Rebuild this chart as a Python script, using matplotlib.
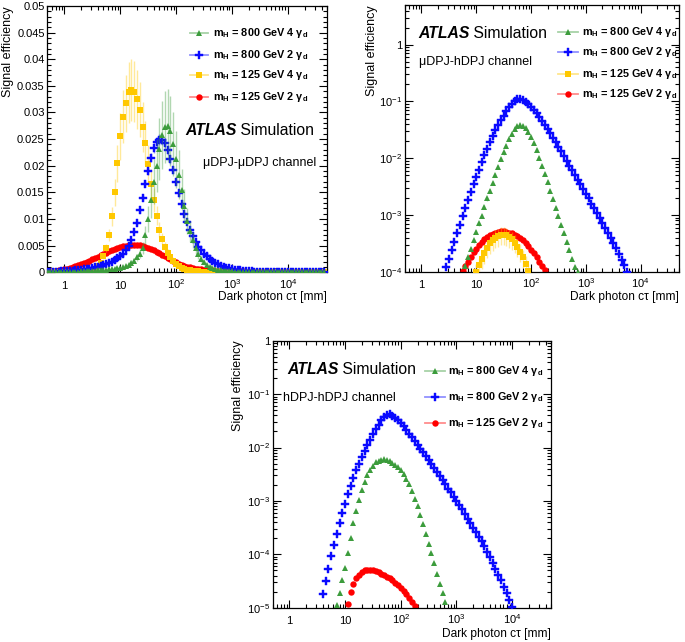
import math

import matplotlib
matplotlib.use("Agg")
import matplotlib.pyplot as plt
from matplotlib.lines import Line2D
from matplotlib.ticker import FuncFormatter, LogLocator, MultipleLocator, NullFormatter

plt.rcParams["font.family"] = ["Liberation Sans", "DejaVu Sans"]
plt.rcParams["mathtext.fontset"] = "custom"
plt.rcParams["mathtext.rm"] = "Liberation Sans"
plt.rcParams["mathtext.it"] = "Liberation Sans:italic"
plt.rcParams["mathtext.bf"] = "Liberation Sans:bold"
plt.rcParams["mathtext.sf"] = "Liberation Sans"

# dark photon c*tau points [mm], 20 per decade
CTAU = [
    0.501, 0.562, 0.631, 0.708, 0.794, 0.891,
    1.00, 1.12, 1.26, 1.41, 1.58, 1.78, 2.00, 2.24, 2.51, 2.82,
    3.16, 3.55, 3.98, 4.47, 5.01, 5.62, 6.31, 7.08, 7.94, 8.91,
    10.0, 11.2, 12.6, 14.1, 15.8, 17.8, 20.0, 22.4, 25.1, 28.2,
    31.6, 35.5, 39.8, 44.7, 50.1, 56.2, 63.1, 70.8, 79.4, 89.1,
    100, 112, 126, 141, 158, 178, 200, 224, 251, 282,
    316, 355, 398, 447, 501, 562, 631, 708, 794, 891,
    1000, 1120, 1260, 1410, 1580, 1780, 2000, 2240, 2510, 2820,
    3160, 3550, 3980, 4470, 5010, 5620, 6310, 7080, 7940, 8910,
    10000, 11200, 12600, 14100, 15800, 17800, 20000, 22400, 25100, 28200,
    31600, 35500, 39800, 44700,
]

# legend order: 800 GeV 4gd, 800 GeV 2gd, 125 GeV 4gd, 125 GeV 2gd
MASSES = [800, 800, 125, 125]
N_GD = [4, 2, 4, 2]
COLORS = ["#3c9c3c", "#0a0aff", "#ffc800", "#ff0000"]
MARKERS = ["^", "P", "s", "o"]
MSIZES = [5.0, 5.6, 4.2, 4.6]
EDGES = [0, 0.3, 0, 0]

# muDPJ-muDPJ channel (one value per CTAU point)
MUMU_800_4GD = [
    0.00002, 0.00002, 0.00003, 0.00003, 0.00004, 0.00005, 0.00006, 0.00007, 0.00008, 0.0001,
    0.00011, 0.00013, 0.00015, 0.00017, 0.0002, 0.00023, 0.00026, 0.0003, 0.00034, 0.00038,
    0.00043, 0.00049, 0.00055, 0.00062, 0.0007, 0.00078, 0.00088, 0.001, 0.0012, 0.00145,
    0.0018, 0.0022, 0.0028, 0.0035, 0.0046, 0.0070, 0.0100, 0.0135, 0.0170, 0.0200,
    0.0232, 0.0258, 0.0273, 0.0275, 0.0265, 0.0240, 0.0212, 0.0183, 0.0155, 0.0125,
    0.0097, 0.0077, 0.0060, 0.0046, 0.0034, 0.0025, 0.00185, 0.0014, 0.00105, 0.0008,
    0.00062, 0.00048, 0.00038, 0.0003, 0.00024, 0.00019, 0.00015, 0.00012, 0.0001, 0.00008,
    0.00007, 0.00006, 0.00005, 0.00004, 0.000035, 0.00003, 0.000025, 0.00002, 0.00002, 0.000015,
    0.000015, 0.00001, 0.00001, 0.00001, 0.00001, 0.000005, 0.000005, 0.000005, 0.000005, 0.000005,
    0.000005, 0.000005, 0, 0, 0, 0, 0, 0, 0, 0,
]
MUMU_800_2GD = [
    0.00007, 0.00008, 0.0001, 0.00012, 0.00014, 0.00017, 0.0002, 0.00024, 0.00028, 0.00032,
    0.00037, 0.00042, 0.00048, 0.00055, 0.00062, 0.0007, 0.0008, 0.00092, 0.00105, 0.0012,
    0.00135, 0.00155, 0.00175, 0.002, 0.0023, 0.0026, 0.003, 0.0035, 0.0041, 0.0049,
    0.0060, 0.0076, 0.0093, 0.0116, 0.0140, 0.0166, 0.0190, 0.0215, 0.0233, 0.0244,
    0.0249, 0.0249, 0.0243, 0.0230, 0.0212, 0.0192, 0.0170, 0.0148, 0.0128, 0.0110,
    0.0094, 0.0080, 0.0068, 0.0057, 0.0048, 0.0041, 0.0035, 0.0030, 0.0025, 0.0021,
    0.0018, 0.0015, 0.00125, 0.00105, 0.00088, 0.00073, 0.0006, 0.0005, 0.00042, 0.00035,
    0.00029, 0.00024, 0.0002, 0.00017, 0.00014, 0.00012, 0.0001, 0.00008, 0.00007, 0.00006,
    0.00005, 0.00004, 0.000035, 0.00003, 0.000025, 0.00002, 0.00002, 0.000015, 0.00001, 0.00001,
    0.00001, 0.000005, 0.000005, 0.000005, 0, 0, 0, 0, 0, 0,
]
MUMU_125_4GD = [
    0, 0, 0, 0, 0, 0, 0.00001, 0.00001, 0.00002, 0.00003,
    0.00004, 0.00006, 0.00009, 0.00013, 0.0002, 0.0003, 0.00045, 0.0007, 0.0011, 0.0018,
    0.0030, 0.0046, 0.0070, 0.0105, 0.0150, 0.0205, 0.0255, 0.0292, 0.0317, 0.0338,
    0.0343, 0.0339, 0.0325, 0.0305, 0.0273, 0.0242, 0.0204, 0.0166, 0.0136, 0.0106,
    0.0080, 0.0063, 0.0048, 0.0037, 0.0029, 0.0021, 0.0015, 0.0011, 0.0008, 0.0006,
    0.00045, 0.00035, 0.00027, 0.0002, 0.00015, 0.00011, 0.00008, 0.00006, 0.00005, 0.00004,
    0.00003, 0.00003, 0.00002, 0.00002, 0.00001, 0.00001, 0.00001, 0.00001, 0, 0,
    0, 0, 0, 0, 0, 0, 0, 0, 0, 0,
    0, 0, 0, 0, 0, 0, 0, 0, 0, 0,
    0, 0, 0, 0, 0, 0, 0, 0, 0, 0,
]
MUMU_125_2GD = [
    0.00015, 0.0002, 0.00025, 0.0003, 0.00038, 0.00046, 0.00055, 0.00066, 0.0008, 0.00095,
    0.00112, 0.0013, 0.0015, 0.00172, 0.00195, 0.0022, 0.00245, 0.0027, 0.00295, 0.0032,
    0.00345, 0.0037, 0.00395, 0.0042, 0.0044, 0.0046, 0.00475, 0.0049, 0.0050, 0.00505,
    0.0051, 0.0051, 0.0051, 0.00505, 0.00495, 0.0048, 0.0046, 0.0044, 0.00415, 0.0039,
    0.0036, 0.0033, 0.0030, 0.0027, 0.0024, 0.0021, 0.00185, 0.0016, 0.0014, 0.0012,
    0.00105, 0.0009, 0.00078, 0.00068, 0.0006, 0.00053, 0.00047, 0.00042, 0.00038, 0.00034,
    0.00031, 0.00028, 0.00026, 0.00024, 0.00022, 0.0002, 0.00019, 0.00018, 0.00017, 0.00016,
    0.00015, 0.00014, 0.00013, 0.00012, 0.00012, 0.00011, 0.0001, 0.0001, 0.00009, 0.00009,
    0.00008, 0.00008, 0.00007, 0.00007, 0.00007, 0.00006, 0.00006, 0.00006, 0.00005, 0.00005,
    0.00005, 0.00005, 0.00004, 0.00004, 0.00004, 0.00004, 0.00004, 0.00003, 0.00003, 0.00003,
]
MUMU_REL_ERR = [0.25, 0.04, 0.17, 0.03]

# muDPJ-hDPJ channel (values start at the given c*tau)
MUH_800_4GD_FROM = 6.31
MUH_800_4GD = [
    1.26e-4, 1.78e-4, 2.51e-4, 3.55e-4, 5.01e-4, 7.08e-4, 9.77e-4, 1.38e-3, 1.95e-3, 2.69e-3,
    3.72e-3, 5.13e-3, 7.08e-3, 9.55e-3, 1.26e-2, 1.66e-2, 2.14e-2, 2.69e-2, 3.24e-2, 3.63e-2,
    3.80e-2, 3.72e-2, 3.39e-2, 2.88e-2, 2.34e-2, 1.82e-2, 1.38e-2, 1.02e-2, 7.41e-3, 5.37e-3,
    3.80e-3, 2.69e-3, 1.91e-3, 1.35e-3, 9.55e-4, 6.76e-4, 4.79e-4, 3.39e-4, 2.40e-4, 1.70e-4,
    1.20e-4, 1.00e-4,
]
MUH_800_2GD_FROM = 2.82
MUH_800_2GD = [
    1.20e-4, 1.70e-4, 2.40e-4, 3.39e-4, 4.79e-4, 6.76e-4, 9.55e-4, 1.32e-3, 1.82e-3, 2.51e-3,
    3.47e-3, 4.68e-3, 6.31e-3, 8.51e-3, 1.12e-2, 1.48e-2, 1.91e-2, 2.45e-2, 3.09e-2, 3.80e-2,
    4.68e-2, 5.62e-2, 6.76e-2, 7.94e-2, 9.12e-2, 0.102, 0.110, 0.110, 0.105, 9.77e-2,
    8.91e-2, 7.94e-2, 7.08e-2, 6.17e-2, 5.37e-2, 4.57e-2, 3.89e-2, 3.31e-2, 2.75e-2, 2.29e-2,
    1.91e-2, 1.58e-2, 1.32e-2, 1.10e-2, 8.91e-3, 7.41e-3, 6.17e-3, 5.01e-3, 4.17e-3, 3.47e-3,
    2.82e-3, 2.34e-3, 1.95e-3, 1.58e-3, 1.32e-3, 1.07e-3, 8.91e-4, 7.24e-4, 5.89e-4, 4.79e-4,
    3.89e-4, 3.16e-4, 2.57e-4, 2.04e-4, 1.62e-4, 1.29e-4, 1.00e-4,
]
MUH_125_4GD_FROM = 10.0
MUH_125_4GD = [
    1.00e-4, 1.29e-4, 1.70e-4, 2.14e-4, 2.63e-4, 3.16e-4, 3.63e-4, 3.98e-4, 4.27e-4, 4.47e-4,
    4.47e-4, 4.37e-4, 4.07e-4, 3.72e-4, 3.24e-4, 2.75e-4, 2.24e-4, 1.78e-4, 1.38e-4, 1.02e-4,
]
MUH_125_2GD_FROM = 5.62
MUH_125_2GD = [
    1.02e-4, 1.26e-4, 1.51e-4, 1.82e-4, 2.19e-4, 2.51e-4, 2.95e-4, 3.31e-4, 3.72e-4, 4.07e-4,
    4.37e-4, 4.68e-4, 4.90e-4, 5.01e-4, 5.13e-4, 5.13e-4, 5.01e-4, 4.90e-4, 4.79e-4, 4.47e-4,
    4.17e-4, 3.89e-4, 3.55e-4, 3.16e-4, 2.82e-4, 2.45e-4, 2.14e-4, 1.82e-4, 1.51e-4, 1.26e-4,
    1.05e-4,
]
MUH_REL_ERR = [0.08, 0.02, 0.35, 0.06]

# hDPJ-hDPJ channel (no 125 GeV 4gd sample)
HH_800_4GD_FROM = 7.08
HH_800_4GD = [
    1.12e-5, 1.91e-5, 3.31e-5, 5.62e-5, 1.05e-4, 2.00e-4, 3.80e-4, 6.61e-4, 1.05e-3, 1.58e-3,
    2.24e-3, 3.02e-3, 3.80e-3, 4.57e-3, 5.25e-3, 5.62e-3, 5.89e-3, 6.03e-3, 5.89e-3, 5.50e-3,
    5.13e-3, 4.79e-3, 4.27e-3, 3.80e-3, 3.16e-3, 2.57e-3, 2.04e-3, 1.51e-3, 1.10e-3, 7.94e-4,
    5.37e-4, 3.63e-4, 2.40e-4, 1.58e-4, 1.05e-4, 6.76e-5, 4.37e-5, 2.82e-5, 1.86e-5, 1.26e-5,
]
HH_800_2GD_FROM = 3.98
HH_800_2GD = [
    1.78e-5, 3.16e-5, 5.37e-5, 9.12e-5, 1.51e-4, 2.40e-4, 3.80e-4, 5.89e-4, 8.91e-4, 1.32e-3,
    1.91e-3, 2.69e-3, 3.72e-3, 5.01e-3, 6.61e-3, 8.71e-3, 1.12e-2, 1.41e-2, 1.78e-2, 2.19e-2,
    2.69e-2, 3.24e-2, 3.72e-2, 4.07e-2, 4.17e-2, 3.89e-2, 3.63e-2, 3.31e-2, 2.88e-2, 2.51e-2,
    2.14e-2, 1.82e-2, 1.55e-2, 1.32e-2, 1.12e-2, 9.55e-3, 8.13e-3, 6.92e-3, 5.75e-3, 4.90e-3,
    4.07e-3, 3.47e-3, 2.88e-3, 2.45e-3, 2.04e-3, 1.70e-3, 1.45e-3, 1.20e-3, 1.00e-3, 8.32e-4,
    6.92e-4, 5.62e-4, 4.68e-4, 3.80e-4, 3.16e-4, 2.57e-4, 2.14e-4, 1.74e-4, 1.41e-4, 1.12e-4,
    8.91e-5, 6.92e-5, 5.37e-5, 4.17e-5, 3.24e-5, 2.45e-5, 1.86e-5, 1.38e-5, 1.02e-5,
]
HH_125_2GD_FROM = 11.2
HH_125_2GD = [
    1.17e-5, 2.00e-5, 2.82e-5, 3.55e-5, 4.17e-5, 4.68e-5, 5.01e-5, 5.13e-5, 5.13e-5, 5.01e-5,
    4.90e-5, 4.68e-5, 4.37e-5, 4.07e-5, 3.80e-5, 3.55e-5, 3.24e-5, 2.95e-5, 2.63e-5, 2.34e-5,
    2.04e-5, 1.78e-5, 1.51e-5, 1.29e-5, 1.07e-5,
]
HH_REL_ERR = [0.04, 0.02, 0.05]


def ctau_for(start, values):
    i0 = CTAU.index(start)
    return CTAU[i0:i0 + len(values)]


def pow_label(v, pos):
    if v <= 0:
        return ""
    e = int(round(math.log10(v)))
    if e == 0:
        return "1"
    if e == 1:
        return "10"
    return rf"$\mathregular{{10^{{{e}}}}}$"


def legend_label(mass, n):
    return rf"$\mathbf{{m_{{H}}}}$ = {mass} GeV {n} $\mathregular{{\gamma}}_{{\mathbf{{d}}}}$"


def draw_series(ax, x, y, rel, idx, z):
    color = COLORS[idx]
    ax.errorbar(x, y, yerr=[v * rel for v in y], fmt="none", ecolor=color,
                elinewidth=1.0, alpha=0.4, zorder=z)
    ax.plot(x, y, ls="none", marker=MARKERS[idx], ms=MSIZES[idx], color=color,
            mew=EDGES[idx], zorder=z + 0.1)


def legend_entry(ax, x0, x1, xt, y, idx):
    color = COLORS[idx]
    ax.add_line(Line2D([x0, x1], [y, y], transform=ax.transAxes, color=color,
                       alpha=0.45, lw=1.3, clip_on=False))
    ax.add_line(Line2D([(x0 + x1) / 2], [y], transform=ax.transAxes, ls="none",
                       marker=MARKERS[idx], ms=MSIZES[idx], color=color,
                       mew=EDGES[idx], clip_on=False))
    ax.text(xt, y, legend_label(MASSES[idx], N_GD[idx]), transform=ax.transAxes,
            ha="left", va="center", fontsize=7.8, fontweight="bold")


def atlas_label(ax, x, y, channel, cx, cy):
    t = ax.text(x, y, "ATLAS", transform=ax.transAxes, fontsize=11.3,
                fontweight="bold", fontstyle="italic", ha="left", va="center")
    ax.annotate(" Simulation", xy=(1, 0), xycoords=t, ha="left", va="bottom",
                fontsize=11.3)
    ax.text(cx, cy, channel, transform=ax.transAxes, fontsize=9, ha="left",
            va="center")


def style_axes(ax, ylab_x, xlab_y):
    ax.set_xscale("log")
    ax.set_xlim(0.5, 5e4)
    ax.xaxis.set_major_locator(LogLocator(base=10, numticks=12))
    ax.xaxis.set_minor_locator(LogLocator(base=10, subs=(2, 3, 4, 5, 6, 7, 8, 9), numticks=12))
    ax.xaxis.set_major_formatter(FuncFormatter(pow_label))
    ax.xaxis.set_minor_formatter(NullFormatter())
    ax.tick_params(which="both", direction="in", top=True, right=True, labelsize=8)
    ax.tick_params(which="major", length=6, width=0.8)
    ax.tick_params(which="minor", length=3, width=0.8)
    ax.tick_params(axis="x", which="both", pad=12)
    ax.tick_params(axis="y", which="both", pad=2)
    for tick in ax.xaxis.get_major_ticks():
        tick.label1.set_verticalalignment("baseline")
    ax.set_ylabel("Signal efficiency", loc="top", fontsize=9)
    ax.yaxis.set_label_coords(ylab_x, 1.0)
    ax.set_xlabel("Dark photon c\u03c4 [mm]", loc="right", fontsize=8.6)
    ax.xaxis.set_label_coords(1.0, xlab_y)
    for side in ax.spines.values():
        side.set_linewidth(0.9)


def set_log_y(ax, lo, hi):
    ax.set_yscale("log")
    ax.set_ylim(lo, hi)
    ax.yaxis.set_major_locator(LogLocator(base=10, numticks=12))
    ax.yaxis.set_minor_locator(LogLocator(base=10, subs=(2, 3, 4, 5, 6, 7, 8, 9), numticks=12))
    ax.yaxis.set_major_formatter(FuncFormatter(pow_label))
    ax.yaxis.set_minor_formatter(NullFormatter())


def main():
    fig = plt.figure(figsize=(6.85, 6.42), dpi=100)

    # muDPJ-muDPJ, linear y
    ax1 = fig.add_axes([0.0693, 0.5759, 0.408, 0.4148])
    mumu = [MUMU_800_4GD, MUMU_800_2GD, MUMU_125_4GD, MUMU_125_2GD]
    for idx in (3, 2, 1, 0):
        draw_series(ax1, CTAU, mumu[idx], MUMU_REL_ERR[idx], idx, 2 + 3 - idx)
    ax1.set_ylim(0, 0.05)
    ax1.yaxis.set_major_locator(MultipleLocator(0.005))
    ax1.yaxis.set_minor_locator(MultipleLocator(0.001))
    ax1.yaxis.set_major_formatter(FuncFormatter(lambda v, p: f"{v:g}"))
    style_axes(ax1, -0.118, -0.070)
    for idx, y in zip(range(4), [0.897, 0.816, 0.739, 0.657]):
        legend_entry(ax1, 0.510, 0.574, 0.592, y, idx)
    atlas_label(ax1, 0.492, 0.531, "\u03bcDPJ-\u03bcDPJ channel", 0.556, 0.410)

    # muDPJ-hDPJ, log y
    ax2 = fig.add_axes([0.5912, 0.5768, 0.400, 0.4154])
    muh = [
        (MUH_800_4GD_FROM, MUH_800_4GD),
        (MUH_800_2GD_FROM, MUH_800_2GD),
        (MUH_125_4GD_FROM, MUH_125_4GD),
        (MUH_125_2GD_FROM, MUH_125_2GD),
    ]
    for idx in (3, 2, 1, 0):
        start, vals = muh[idx]
        draw_series(ax2, ctau_for(start, vals), vals, MUH_REL_ERR[idx], idx, 2 + 3 - idx)
    set_log_y(ax2, 1e-4, 5)
    style_axes(ax2, -0.099, -0.072)
    for idx, y in zip(range(4), [0.900, 0.825, 0.741, 0.666]):
        legend_entry(ax2, 0.558, 0.631, 0.646, y, idx)
    atlas_label(ax2, 0.047, 0.895, "\u03bcDPJ-hDPJ channel", 0.051, 0.787)

    # hDPJ-hDPJ, log y
    ax3 = fig.add_axes([0.3981, 0.0534, 0.4063, 0.4159])
    hh = {
        0: (HH_800_4GD_FROM, HH_800_4GD, HH_REL_ERR[0]),
        1: (HH_800_2GD_FROM, HH_800_2GD, HH_REL_ERR[1]),
        3: (HH_125_2GD_FROM, HH_125_2GD, HH_REL_ERR[2]),
    }
    for idx in (3, 1, 0):
        start, vals, rel = hh[idx]
        draw_series(ax3, ctau_for(start, vals), vals, rel, idx, 2 + 3 - idx)
    set_log_y(ax3, 1e-5, 1)
    style_axes(ax3, -0.103, -0.076)
    for idx, y in zip((0, 1, 3), [0.888, 0.790, 0.691]):
        legend_entry(ax3, 0.548, 0.620, 0.630, y, idx)
    atlas_label(ax3, 0.051, 0.893, "hDPJ-hDPJ channel", 0.037, 0.784)

    fig.savefig("out.png", dpi=100)
    plt.close(fig)


if __name__ == "__main__":
    main()
